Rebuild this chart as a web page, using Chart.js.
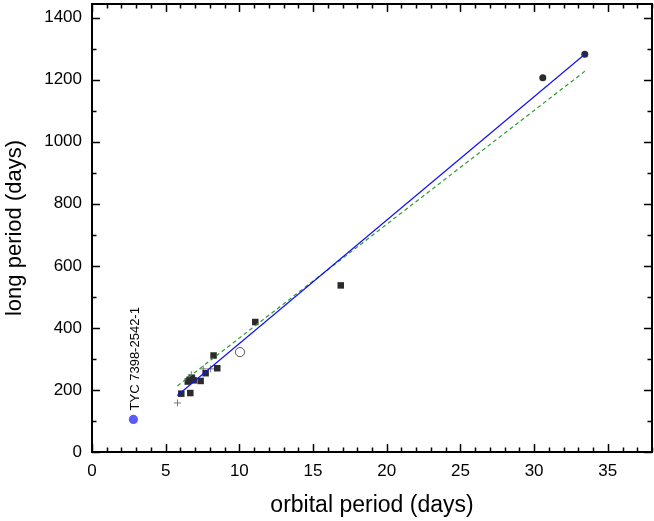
<!DOCTYPE html>
<html>
<head>
<meta charset="utf-8">
<script src="https://cdn.jsdelivr.net/npm/chart.js@4.4.0/dist/chart.umd.min.js"></script>
<style>
  body { margin: 0; background: #fff; }
</style>
</head>
<body>
<canvas id="myChart" width="654" height="521"></canvas>
<script>
      // binaries: orbital period (days) vs long period (days)
      var squareX = [6.06, 6.67, 6.5, 6.62, 6.78, 6.9, 7.37, 7.71, 8.25, 8.5, 11.08, 16.88];
      var squareY = [188, 190, 227, 233, 238, 231, 229, 254, 311, 270, 419, 537];

      var dotX = [30.59, 33.44];
      var dotY = [1206, 1282];

      var openX = [10.04];
      var openY = [322];

      var plusX = [5.8, 6.74, 7.55, 8.05];
      var plusY = [158, 249, 268, 268];

      var tycX = [2.81];
      var tycY = [105];
      var tycLabel = "TYC 7398-2542-1";

      // the two linear fits, end points
      var fitX = [5.79, 33.44];
      var blueFitY = [182, 1282];
      var greenFitY = [213, 1227];

      var xMajor = 5, xMinor = 1;
      var yMajor = 200, yMinor = 100;

      function pts(xs, ys) {
          return xs.map(function (x, i) { return {x: x, y: ys[i]}; });
      }

      var fontName = "'Liberation Sans', Arial, Helvetica, sans-serif";

      // frame with inward ticks on all four sides
      var framePlugin = {
          id: "frame",
          afterDraw: function (chart) {
              var ctx = chart.ctx, a = chart.chartArea;
              var xs = chart.scales.x, ys = chart.scales.y;
              ctx.save();
              ctx.strokeStyle = "#000";
              ctx.lineWidth = 1.5;
              var v, p, len;
              for (v = 0; v <= xs.max + 1e-9; v += xMinor) {
                  p = Math.round(xs.getPixelForValue(v)) + 0.5;
                  len = (Math.abs(v % xMajor) < 1e-9) ? 8 : 4.5;
                  ctx.beginPath();
                  ctx.moveTo(p, a.bottom); ctx.lineTo(p, a.bottom - len);
                  ctx.moveTo(p, a.top); ctx.lineTo(p, a.top + len);
                  ctx.stroke();
              }
              for (v = 0; v <= ys.max + 1e-9; v += yMinor) {
                  p = Math.round(ys.getPixelForValue(v)) + 0.5;
                  len = (Math.abs(v % yMajor) < 1e-9) ? 8 : 4.5;
                  ctx.beginPath();
                  ctx.moveTo(a.left, p); ctx.lineTo(a.left + len, p);
                  ctx.moveTo(a.right, p); ctx.lineTo(a.right - len, p);
                  ctx.stroke();
              }
              ctx.lineWidth = 2;
              ctx.strokeRect(a.left, a.top, a.right - a.left, a.bottom - a.top);
              ctx.restore();
          }
      };

      // rotated name above the blue point
      var labelPlugin = {
          id: "tycLabel",
          afterDatasetsDraw: function (chart) {
              var ctx = chart.ctx;
              var px = chart.scales.x.getPixelForValue(tycX[0]);
              var py = chart.scales.y.getPixelForValue(tycY[0]);
              ctx.save();
              ctx.translate(px + 6, py - 9);
              ctx.rotate(-Math.PI / 2);
              ctx.font = "13px " + fontName;
              ctx.fillStyle = "#000";
              ctx.textAlign = "left";
              ctx.textBaseline = "alphabetic";
              ctx.fillText(tycLabel, 0, 0);
              ctx.restore();
          }
      };

      new Chart("myChart", {
          type: "scatter",
          data: {
              datasets: [
                  {
                      label: "fit",
                      type: "line",
                      data: pts(fitX, blueFitY),
                      borderColor: "#1010ff",
                      borderWidth: 1.2,
                      pointRadius: 0,
                      fill: false,
                      order: 1
                  },
                  {
                      label: "fit 2",
                      type: "line",
                      data: pts(fitX, greenFitY),
                      borderColor: "#2e9a2e",
                      borderWidth: 1.2,
                      borderDash: [4, 3],
                      pointRadius: 0,
                      fill: false,
                      order: 2
                  },
                  {
                      label: "squares",
                      data: pts(squareX, squareY),
                      pointStyle: "rect",
                      pointRadius: 4.6,
                      backgroundColor: "#2b2b2b",
                      borderColor: "#2b2b2b",
                      borderWidth: 0,
                      order: 3
                  },
                  {
                      label: "dots",
                      data: pts(dotX, dotY),
                      pointStyle: "circle",
                      pointRadius: 3.5,
                      backgroundColor: "#2b2b2b",
                      borderColor: "#2b2b2b",
                      borderWidth: 0,
                      order: 3
                  },
                  {
                      label: "open",
                      data: pts(openX, openY),
                      pointStyle: "circle",
                      pointRadius: 4.6,
                      backgroundColor: "rgba(255,255,255,0)",
                      borderColor: "#555",
                      borderWidth: 1,
                      order: 3
                  },
                  {
                      label: "plus",
                      data: pts(plusX, plusY),
                      pointStyle: "cross",
                      pointRadius: 3.5,
                      borderColor: "#777",
                      borderWidth: 1,
                      order: 3
                  },
                  {
                      label: "TYC",
                      data: pts(tycX, tycY),
                      pointStyle: "circle",
                      pointRadius: 4.6,
                      backgroundColor: "#5a5aff",
                      borderColor: "#5a5aff",
                      borderWidth: 0,
                      order: 3
                  }
              ]
          },
          options: {
              responsive: false,
              animation: false,
              layout: {autoPadding: false, padding: {top: 4, right: 2, left: 0, bottom: 0}},
              plugins: {
                  legend: {display: false},
                  tooltip: {enabled: false}
              },
              scales: {
                  x: {
                      type: "linear",
                      min: 0,
                      max: 38,
                      grid: {display: false, drawTicks: false},
                      border: {display: false},
                      ticks: {
                          stepSize: xMajor,
                          includeBounds: false,
                          color: "#000",
                          padding: 9,
                          maxRotation: 0,
                          font: {family: fontName, size: 17},
                          callback: function (v) { return String(v); }
                      },
                      title: {
                          display: true,
                          text: "orbital period (days)",
                          color: "#000",
                          font: {family: fontName, size: 23},
                          padding: {top: 0, bottom: 2}
                      },
                      afterFit: function (s) {
                          s.height = 69;
                          s.paddingLeft = 0; s.paddingRight = 0;
                          s.paddingTop = 0; s.paddingBottom = 0;
                      }
                  },
                  y: {
                      type: "linear",
                      min: 0,
                      max: 1444,
                      grid: {display: false, drawTicks: false},
                      border: {display: false},
                      ticks: {
                          stepSize: yMajor,
                          includeBounds: false,
                          color: "#000",
                          padding: 10,
                          font: {family: fontName, size: 17},
                          callback: function (v) { return String(v); }
                      },
                      title: {
                          display: true,
                          text: "long period (days)",
                          color: "#000",
                          font: {family: fontName, size: 22},
                          padding: {top: 2, bottom: 0}
                      },
                      afterFit: function (s) {
                          s.width = 92;
                          s.paddingLeft = 0; s.paddingRight = 0;
                          s.paddingTop = 0; s.paddingBottom = 0;
                      }
                  }
              }
          },
          plugins: [framePlugin, labelPlugin]
      });
</script>
</body>
</html>
